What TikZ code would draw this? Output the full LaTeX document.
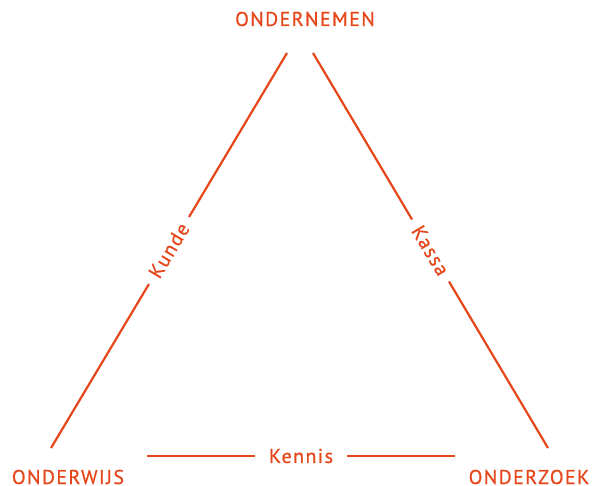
\documentclass[tikz,border=0pt]{standalone}
\usepackage{fontspec}
\setmainfont{PT Sans}[LetterSpace=7, FakeBold=0.6]
\usetikzlibrary{positioning}
\definecolor{oranje}{HTML}{E5461A}

\begin{document}
\begin{tikzpicture}[
    x=1pt, y=-1pt,
    every node/.style={font=\fontsize{20}{22}\selectfont, text=oranje},
    hoek/.style={inner sep=0pt, anchor=base},
    lijn/.style={draw=oranje, line width=2.2pt},
    lbl/.style={fill=white, inner xsep=9pt, inner ysep=2pt},
]
\useasboundingbox (0,0) rectangle (593,486);
% hoekpunten
\node[hoek] (ondernemen) at (305,26) {ONDERNEMEN};
\node[hoek] (onderwijs) at (68,484) {ONDERWIJS};
\node[hoek] (onderzoek) at (529,484) {ONDERZOEK};
% lijneinden
\coordinate (lt) at (287,53);
\coordinate (lb) at (51,448);
\coordinate (rt) at (313,53);
\coordinate (rb) at (548,448);
\coordinate (bl) at (147,456);
\coordinate (br) at (455,456);
\draw[lijn] (lb) -- node[lbl, sloped] {Kunde} (lt);
\draw[lijn] (rt) -- node[lbl, sloped] {Kassa} (rb);
\draw[lijn] (bl) -- node[lbl, inner xsep=14pt] {Kennis} (br);
\end{tikzpicture}
\end{document}
